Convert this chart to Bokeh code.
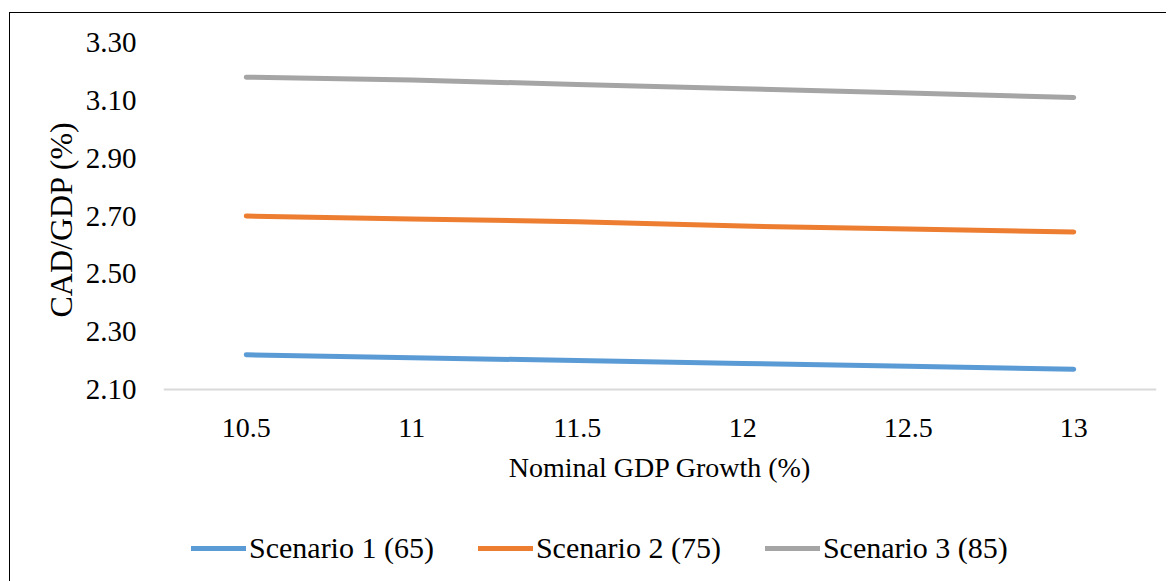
from bokeh.plotting import figure
from bokeh.models import Range1d, FixedTicker, Legend, LegendItem, CustomJSTickFormatter, Title
from bokeh.embed import file_html
from bokeh.resources import INLINE

growth = [10.5, 11, 11.5, 12, 12.5, 13]
scenario1 = [2.22, 2.21, 2.20, 2.19, 2.18, 2.17]
scenario2 = [2.70, 2.69, 2.68, 2.665, 2.655, 2.645]
scenario3 = [3.18, 3.17, 3.155, 3.14, 3.125, 3.11]
names = ["Scenario 1 (65)", "Scenario 2 (75)", "Scenario 3 (85)"]
colors = ["#5b9bd5", "#ed7d31", "#a5a5a5"]
y_ticks = [2.10, 2.30, 2.50, 2.70, 2.90, 3.10, 3.30]

FONT = "Liberation Serif"

# frame runs to the window bottom; the value axis spans 2.10-3.30 over the top 347 px
Y_MIN, Y_MAX = 2.10, 3.30
y_start = Y_MIN - (192 / 347) * (Y_MAX - Y_MIN)

p = figure(frame_width=993, frame_height=539,
           x_range=Range1d(10.25, 13.25), y_range=Range1d(y_start, Y_MAX),
           output_backend="svg", toolbar_location=None,
           min_border_left=153, min_border_top=29, min_border_right=10, min_border_bottom=0)
p.styles = {"margin-left": "9px", "margin-top": "12px",
            "border-left": "1.5px solid #000", "border-top": "1.5px solid #000"}
p.outline_line_color = None
p.xgrid.grid_line_color = None
p.ygrid.grid_line_color = None

renderers = []
for ys, c in zip([scenario1, scenario2, scenario3], colors):
    r = p.line(growth, ys, line_color=c, line_width=5, line_cap="round", line_join="round")
    renderers.append(r)

xa = p.xaxis[0]
xa.fixed_location = Y_MIN
xa.ticker = FixedTicker(ticks=growth)
xa.formatter = CustomJSTickFormatter(code="return String(tick);")
xa.axis_line_color = "#d9d9d9"
xa.axis_line_width = 2
xa.major_tick_line_color = None
xa.minor_tick_line_color = None
xa.major_label_standoff = 23
xa.major_label_text_font = FONT
xa.major_label_text_font_size = "28px"
xa.major_label_text_color = "#000000"
xa.axis_label = "Nominal GDP Growth (%)"
xa.axis_label_text_font = FONT
xa.axis_label_text_font_size = "28px"
xa.axis_label_text_font_style = "normal"
xa.axis_label_text_color = "#000000"
xa.axis_label_standoff = 12

ya = p.yaxis[0]
ya.ticker = FixedTicker(ticks=y_ticks)
ya.formatter = CustomJSTickFormatter(code="return tick.toFixed(2);")
ya.axis_line_color = None
ya.major_tick_line_color = None
ya.minor_tick_line_color = None
ya.major_label_standoff = 21
ya.major_label_text_font = FONT
ya.major_label_text_font_size = "29px"
ya.major_label_text_color = "#000000"

ytitle = Title(text="CAD/GDP (%)", align="left", offset=264,
               text_font=FONT, text_font_size="32px", text_font_style="normal",
               text_color="#000000", standoff=8)
p.add_layout(ytitle, "left")

legend = Legend(items=[LegendItem(label=n, renderers=[r]) for n, r in zip(names, renderers)],
                orientation="horizontal", location=(28, 16),
                label_text_font=FONT, label_text_font_size="30px", label_text_color="#000000",
                glyph_width=55, glyph_height=20, label_standoff=3, spacing=44,
                border_line_color=None, background_fill_alpha=0, padding=0, margin=0)
p.add_layout(legend, "center")

open("out.html", "w").write(file_html(p, INLINE))
